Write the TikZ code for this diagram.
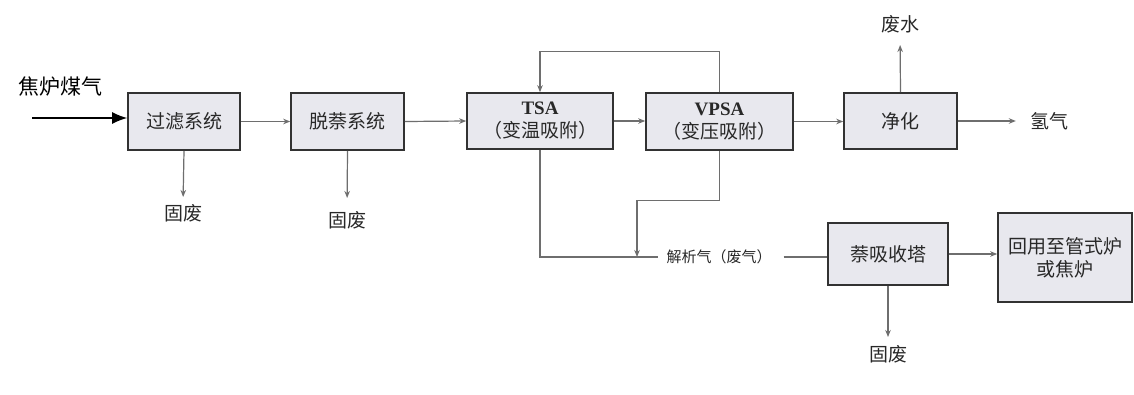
\documentclass[tikz,border=0pt]{standalone}
\usepackage{fontspec}
\setmainfont{Liberation Serif}
\newfontfamily\cjk{Noto Sans CJK SC}
\usetikzlibrary{arrows.meta}
\definecolor{boxfill}{RGB}{232,232,238}
\definecolor{boxline}{RGB}{50,50,50}
\definecolor{flow}{RGB}{110,110,110}
\definecolor{txt}{RGB}{40,40,40}
\tikzset{
  procbox/.style={draw=boxline, line width=1.6pt, fill=boxfill, align=center,
    text=txt, font=\cjk\fontsize{19}{23}\selectfont, inner sep=2pt},
  flowline/.style={draw=flow, line width=1.2pt},
  flowarrow/.style={flowline, -{Stealth[length=7pt,width=5.5pt]}},
  lbl/.style={text=txt, font=\cjk\fontsize{19}{23}\selectfont, inner sep=0pt},
}
\begin{document}
\begin{tikzpicture}[x=1pt,y=-1pt]
\useasboundingbox[fill=white] (0,0) rectangle (1134,394);

% process boxes
\node[procbox, minimum width=112pt, minimum height=57pt] (filt) at (184,121.5) {过滤系统};
\node[procbox, minimum width=113pt, minimum height=57pt] (denaph) at (347.5,121.5) {脱萘系统};
\node[procbox, minimum width=146pt, minimum height=56pt] (tsa) at (540,121)
  {{\rmfamily\bfseries TSA}\\（变温吸附）};
\node[procbox, minimum width=147pt, minimum height=57pt] (vpsa) at (719.5,121.5)
  {{\rmfamily\bfseries VPSA}\\（变压吸附）};
\node[procbox, minimum width=113pt, minimum height=56pt] (purify) at (900.5,121) {净化};
\node[procbox, minimum width=120pt, minimum height=62pt] (naph) at (888,254) {萘吸收塔};
\node[procbox, minimum width=134pt, minimum height=89pt] (reuse) at (1065,257.5)
  {回用至管式炉\\或焦炉};

% labels
\node[font=\cjk\fontsize{21}{24}\selectfont, text=black, inner sep=0pt] (feed) at (60,87) {焦炉煤气};
\coordinate (feedstart) at (32,118);
\node[lbl] (w1) at (183,213) {固废};
\node[lbl] (w2) at (347,220) {固废};
\node[lbl] (w3) at (888,354) {固废};
\node[lbl] (h2) at (1049,121) {氢气};
\node[lbl] (ww) at (900,24) {废水};
\node[text=txt, font=\cjk\fontsize{15}{18}\selectfont, inner sep=0pt] (desorb) at (719,257) {解析气（废气）};
\coordinate (join) at (637,257);

% feed arrow
\draw[black, line width=1.5pt, -{Latex[length=15pt,width=12pt]}] (feedstart) -- (feedstart -| filt.west);

% main line
\draw[flowarrow] (filt.east) -- (denaph.west);
\draw[flowarrow] (denaph.east) -- (tsa.west);
\draw[flowarrow] (tsa.east) -- (tsa.east -| vpsa.west);
\draw[flowarrow] (vpsa.east) -- (vpsa.east -| purify.west);
\draw[flowarrow, shorten >=14pt] (purify.east) -- (h2.west);
\draw[flowarrow, shorten >=12pt] (purify.north) -- (ww.south);

% solid waste
\draw[flowarrow, shorten >=7pt] (filt.south) -- (w1.north);
\draw[flowarrow, shorten >=13pt] (denaph.south) -- (w2.north);
\draw[flowarrow, shorten >=8pt] (naph.south) -- (w3.north);

% loop VPSA -> TSA
\draw[flowarrow] (vpsa.north) -- ++(0,-41) -| (tsa.north);

% desorption gas
\draw[flowline, shorten >=8pt] (tsa.south) |- (desorb.west);
\draw[flowarrow] (vpsa.south) -- ++(0,50) -| (join);
\draw[flowline, shorten <=12pt] (desorb.east) -- (desorb.east -| naph.west);
\draw[flowarrow] (naph.east) -- (naph.east -| reuse.west);
\end{tikzpicture}
\end{document}
